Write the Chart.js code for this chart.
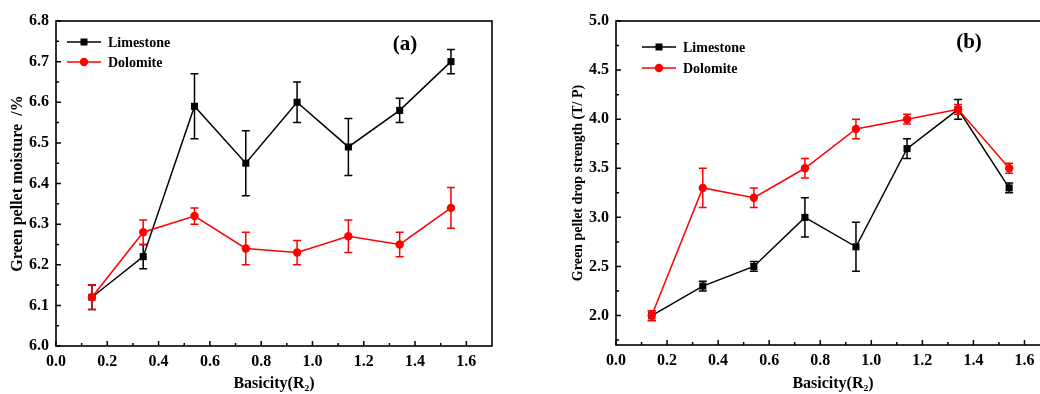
<!DOCTYPE html>
<html>
<head>
<meta charset="utf-8">
<script src="https://cdn.jsdelivr.net/npm/chart.js@4.4.1/dist/chart.umd.min.js"></script>
<style>
    html, body { margin: 0; padding: 0; background: #fff; overflow: hidden; }
    body { width: 1040px; height: 394px; position: relative; }
    #chartA { position: absolute; left: 0; top: 0; }
    #chartB { position: absolute; left: 520px; top: 0; }
</style>
</head>
<body>
<canvas id="chartA" width="520" height="394"></canvas>
<canvas id="chartB" width="560" height="394"></canvas>
<script>
// Basicity (R2) values, shared by both panels
const basicity = [0.14, 0.34, 0.54, 0.74, 0.94, 1.14, 1.34, 1.54];
const xTicks = [0.0, 0.2, 0.4, 0.6, 0.8, 1.0, 1.2, 1.4, 1.6];

// (a) green pellet moisture, %
const moistureLimestone = [6.12, 6.22, 6.59, 6.45, 6.60, 6.49, 6.58, 6.70];
const moistureLimestoneErr = [0.03, 0.03, 0.08, 0.08, 0.05, 0.07, 0.03, 0.03];
const moistureDolomite = [6.12, 6.28, 6.32, 6.24, 6.23, 6.27, 6.25, 6.34];
const moistureDolomiteErr = [0.03, 0.03, 0.02, 0.04, 0.03, 0.04, 0.03, 0.05];
const moistureTicks = [6.0, 6.1, 6.2, 6.3, 6.4, 6.5, 6.6, 6.7, 6.8];

// (b) green pellet drop strength, times per pellet
const dropLimestone = [2.0, 2.3, 2.5, 3.0, 2.7, 3.7, 4.1, 3.3];
const dropLimestoneErr = [0.05, 0.05, 0.05, 0.2, 0.25, 0.1, 0.1, 0.05];
const dropDolomite = [2.0, 3.3, 3.2, 3.5, 3.9, 4.0, 4.1, 3.5];
const dropDolomiteErr = [0.05, 0.2, 0.1, 0.1, 0.1, 0.05, 0.05, 0.05];
const dropTicks = [2.0, 2.5, 3.0, 3.5, 4.0, 4.5, 5.0];

const SERIF = '"Liberation Serif", "Times New Roman", serif';
const BLACK = '#000000';
const RED = '#ff0000';

const toPoints = (ys) => basicity.map((x, i) => ({ x: x, y: ys[i] }));

// vertical error bars with caps, drawn under the lines
const errorBarPlugin = {
    id: 'errorBars',
    beforeDatasetsDraw(chart) {
        const { ctx, scales: { x, y } } = chart;
        chart.data.datasets.forEach(ds => {
            if (!ds.errors) return;
            ctx.save();
            ctx.strokeStyle = ds.borderColor;
            ctx.lineWidth = 1.5;
            ds.data.forEach((pt, i) => {
                const px = x.getPixelForValue(pt.x);
                const top = y.getPixelForValue(pt.y + ds.errors[i]);
                const bot = y.getPixelForValue(pt.y - ds.errors[i]);
                ctx.beginPath();
                ctx.moveTo(px, top); ctx.lineTo(px, bot);
                ctx.moveTo(px - 4, top); ctx.lineTo(px + 4, top);
                ctx.moveTo(px - 4, bot); ctx.lineTo(px + 4, bot);
                ctx.stroke();
            });
            ctx.restore();
        });
    }
};

// frame, inward ticks, inside legend and panel letter
const framePlugin = {
    id: 'frame',
    afterDraw(chart, args, opts) {
        const { ctx, chartArea: a, scales: { x, y } } = chart;
        ctx.save();
        ctx.strokeStyle = BLACK;
        ctx.lineWidth = 1.6;
        ctx.strokeRect(a.left, a.top, a.right - a.left, a.bottom - a.top);

        const drawTicks = (scale, horizontal) => {
            const vals = scale.ticks.map(t => t.value);
            const step = vals[1] - vals[0];
            const minors = [vals[0] - step / 2];
            vals.forEach(v => minors.push(v + step / 2));
            ctx.lineWidth = 1.5;
            ctx.beginPath();
            vals.forEach(v => {
                const p = scale.getPixelForValue(v);
                if (horizontal) { ctx.moveTo(p, a.bottom); ctx.lineTo(p, a.bottom - 5); }
                else { ctx.moveTo(a.left, p); ctx.lineTo(a.left + 5, p); }
            });
            minors.forEach(v => {
                if (v <= scale.min + 1e-9 || v >= scale.max - 1e-9) return;
                const p = scale.getPixelForValue(v);
                if (horizontal) { ctx.moveTo(p, a.bottom); ctx.lineTo(p, a.bottom - 3); }
                else { ctx.moveTo(a.left, p); ctx.lineTo(a.left + 3, p); }
            });
            ctx.stroke();
        };
        drawTicks(x, true);
        drawTicks(y, false);

        // legend
        ctx.font = 'bold 14px ' + SERIF;
        ctx.textBaseline = 'middle';
        ctx.textAlign = 'left';
        chart.data.datasets.forEach((ds, i) => {
            const ly = opts.legendY[i];
            const lx = opts.legendX;
            ctx.strokeStyle = ds.borderColor;
            ctx.fillStyle = ds.borderColor;
            ctx.lineWidth = 1.5;
            ctx.beginPath();
            ctx.moveTo(lx, ly); ctx.lineTo(lx + 34, ly);
            ctx.stroke();
            ctx.beginPath();
            if (ds.pointStyle === 'rect') ctx.rect(lx + 17 - 3.5, ly - 3.5, 7, 7);
            else ctx.arc(lx + 17, ly, 4.2, 0, Math.PI * 2);
            ctx.fill();
            ctx.fillStyle = BLACK;
            ctx.fillText(ds.label, lx + 41, ly + 1);
        });

        // panel letter
        ctx.font = 'bold 21px ' + SERIF;
        ctx.textAlign = 'center';
        ctx.fillStyle = BLACK;
        ctx.fillText(opts.letter, opts.letterX, opts.letterY);
        ctx.restore();
    }
};

function buildDatasets(lime, limeErr, dolo, doloErr) {
    return [
        {
            label: 'Limestone', data: toPoints(lime), errors: limeErr,
            borderColor: BLACK, backgroundColor: BLACK, borderWidth: 1.5,
            pointStyle: 'rect', pointRadius: 5, pointBorderWidth: 0, order: 2
        },
        {
            label: 'Dolomite', data: toPoints(dolo), errors: doloErr,
            borderColor: RED, backgroundColor: RED, borderWidth: 1.5,
            pointStyle: 'circle', pointRadius: 4.2, pointBorderWidth: 0, order: 1
        }
    ];
}

function buildOptions(cfg) {
    return {
        responsive: false,
        animation: false,
        devicePixelRatio: 1,
        layout: { padding: { top: 21, right: cfg.padRight, left: 0, bottom: 0 } },
        plugins: {
            legend: { display: false },
            tooltip: { enabled: false },
            frame: { legendX: cfg.legendX, legendY: cfg.legendY, letter: cfg.letter, letterX: cfg.letterX, letterY: cfg.letterY }
        },
        scales: {
            x: {
                type: 'linear', min: 0, max: 1.7,
                afterBuildTicks: s => { s.ticks = xTicks.map(v => ({ value: v })); },
                afterFit: s => { s.height = cfg.xHeight; },
                grid: { display: false, drawTicks: false },
                border: { display: false },
                ticks: {
                    color: BLACK, padding: 6, maxRotation: 0,
                    font: { family: SERIF, size: 16, weight: 'bold' },
                    callback: v => Number(v).toFixed(1)
                },
                title: {
                    display: true, text: 'Basicity(R\u2082)', color: BLACK,
                    font: { family: SERIF, size: 16, weight: 'bold' },
                    padding: { top: 0, bottom: 1 }
                }
            },
            y: {
                type: 'linear', min: cfg.yMin, max: cfg.yMax,
                afterBuildTicks: s => { s.ticks = cfg.yTicks.map(v => ({ value: v })); },
                afterFit: s => { s.width = cfg.yWidth; },
                grid: { display: false, drawTicks: false },
                border: { display: false },
                ticks: {
                    color: BLACK, padding: 7,
                    font: { family: SERIF, size: 16, weight: 'bold' },
                    callback: v => Number(v).toFixed(1)
                },
                title: {
                    display: true, text: cfg.yTitle, color: BLACK,
                    font: { family: SERIF, size: cfg.yTitleSize, weight: 'bold' },
                    padding: { top: cfg.yTitlePad, bottom: 0 }
                }
            }
        }
    };
}

new Chart(document.getElementById('chartA'), {
    type: 'line',
    data: { datasets: buildDatasets(moistureLimestone, moistureLimestoneErr, moistureDolomite, moistureDolomiteErr) },
    options: buildOptions({
        padRight: 28, xHeight: 48, yWidth: 56, yMin: 6.0, yMax: 6.8, yTicks: moistureTicks,
        yTitle: 'Green pellet moisture  /%', yTitleSize: 16, yTitlePad: 8,
        legendX: 67, legendY: [42, 62], letter: '(a)', letterX: 405, letterY: 45
    }),
    plugins: [errorBarPlugin, framePlugin]
});

new Chart(document.getElementById('chartB'), {
    type: 'line',
    data: { datasets: buildDatasets(dropLimestone, dropLimestoneErr, dropDolomite, dropDolomiteErr) },
    options: buildOptions({
        padRight: 30, xHeight: 49, yWidth: 96, yMin: 1.7, yMax: 5.0, yTicks: dropTicks,
        yTitle: 'Green pellet drop strength (T/ P)', yTitleSize: 14, yTitlePad: 50,
        legendX: 122, legendY: [47, 68], letter: '(b)', letterX: 449, letterY: 43
    }),
    plugins: [errorBarPlugin, framePlugin]
});
</script>
</body>
</html>
